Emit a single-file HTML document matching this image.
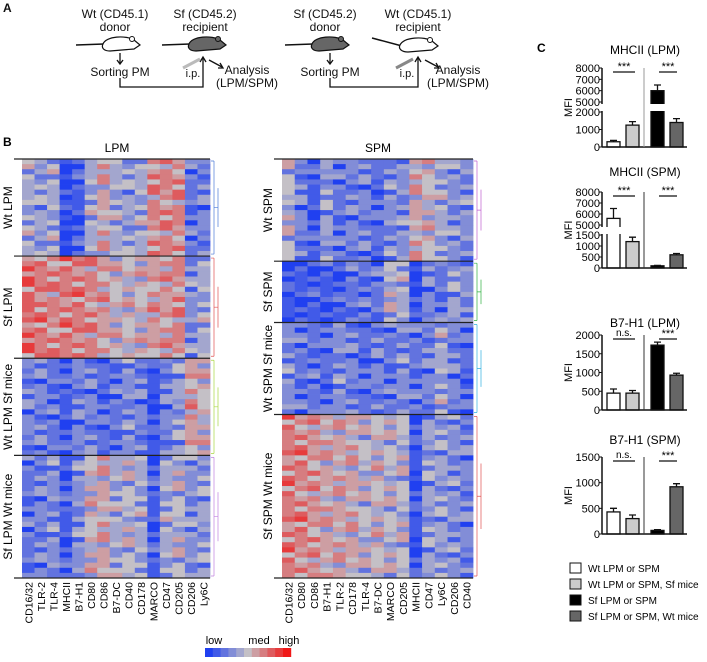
<!DOCTYPE html>
<html><head><meta charset="utf-8"><style>
html,body{margin:0;padding:0;background:#fff;}
svg{display:block;font-family:"Liberation Sans",Arial,sans-serif;}
</style></head><body>
<svg id="fig" width="707" height="662" viewBox="0 0 707 662" xmlns="http://www.w3.org/2000/svg">
<!-- Panel A -->
<g font-size="12" fill="#111">
<text x="3" y="12" font-weight="bold" font-size="12">A</text>
<text x="115" y="18" text-anchor="middle">Wt (CD45.1)</text>
<text x="115" y="31" text-anchor="middle">donor</text>
<text x="205" y="18" text-anchor="middle">Sf (CD45.2)</text>
<text x="205" y="31" text-anchor="middle">recipient</text>
<text x="325" y="18" text-anchor="middle">Sf (CD45.2)</text>
<text x="325" y="31" text-anchor="middle">donor</text>
<text x="418" y="18" text-anchor="middle">Wt (CD45.1)</text>
<text x="418" y="31" text-anchor="middle">recipient</text>
<g><path d="M76 45 L104 44" stroke="#111" stroke-width="1.5"/><path d="M103 44 C106 36,126 35,134 40 L140 45 L134 49 L110 51 C104 51,101 48,103 44Z" fill="#fff" stroke="#111" stroke-width="1.2"/><circle cx="132" cy="39" r="2.5" fill="#fff" stroke="#111"/></g>
<g><path d="M162 45 L190 44" stroke="#111" stroke-width="1.5"/><path d="M189 44 C192 36,212 35,220 40 L226 45 L220 49 L196 51 C190 51,187 48,189 44Z" fill="#666" stroke="#111" stroke-width="1.2"/><circle cx="218" cy="39" r="2.5" fill="#666" stroke="#111"/></g>
<g><path d="M285 45 L313 44" stroke="#111" stroke-width="1.5"/><path d="M312 44 C315 36,335 35,343 40 L349 45 L343 49 L319 51 C313 51,310 48,312 44Z" fill="#666" stroke="#111" stroke-width="1.2"/><circle cx="341" cy="39" r="2.5" fill="#666" stroke="#111"/></g>
<g><path d="M372 38 L402 46" stroke="#111" stroke-width="1.5"/><path d="M400 45 C404 37,424 36,432 41 L438 46 L432 50 L408 52 C402 52,398 49,400 45Z" fill="#fff" stroke="#111" stroke-width="1.2"/><circle cx="430" cy="40" r="2.5" fill="#fff" stroke="#111"/></g>
<g stroke="#111" stroke-width="1.3" fill="none">
<path d="M120 53 V63"/><path d="M117 60 L120 64 L123 60"/>
<path d="M120 78 V87 H203 V58"/><path d="M200 62 L203 57 L206 62"/>
<path d="M209 60 L222 67"/><path d="M218 68 L223 68 L220 63"/>
<path d="M330 53 V63"/><path d="M327 60 L330 64 L333 60"/>
<path d="M330 78 V87 H418 V58"/><path d="M415 62 L418 57 L421 62"/>
<path d="M425 60 L438 67"/><path d="M434 68 L439 68 L436 63"/>
</g>
<path d="M183 68 L200 59" stroke="#bbb" stroke-width="3"/>
<path d="M396 68 L413 59" stroke="#888" stroke-width="3"/>
<text x="120" y="76" text-anchor="middle">Sorting PM</text>
<text x="193" y="77" text-anchor="middle" font-size="11">i.p.</text>
<text x="247" y="74" text-anchor="middle">Analysis</text>
<text x="247" y="87" text-anchor="middle">(LPM/SPM)</text>
<text x="330" y="76" text-anchor="middle">Sorting PM</text>
<text x="407" y="77" text-anchor="middle" font-size="11">i.p.</text>
<text x="458" y="74" text-anchor="middle">Analysis</text>
<text x="458" y="87" text-anchor="middle">(LPM/SPM)</text>
</g>
<text x="3" y="146" font-weight="bold" font-size="12">B</text>
<text x="117" y="152" text-anchor="middle" font-size="12">LPM</text>
<text x="378" y="152" text-anchor="middle" font-size="12">SPM</text>
<text x="537" y="52" font-weight="bold" font-size="12">C</text>
<g id="heat"></g>
<g id="bars"></g>
<g font-size="10">
<rect x="570" y="563" width="11" height="10" fill="#fff" stroke="#111"/><text x="588" y="572">Wt LPM or SPM</text>
<rect x="570" y="579" width="11" height="10" fill="#ccc" stroke="#111"/><text x="588" y="588">Wt LPM or SPM, Sf mice</text>
<rect x="570" y="595" width="11" height="10" fill="#000" stroke="#111"/><text x="588" y="604">Sf LPM or SPM</text>
<rect x="570" y="611" width="11" height="10" fill="#666" stroke="#111"/><text x="588" y="620">Sf LPM or SPM, Wt mice</text>
</g>
</svg>
<script>
const NS="http://www.w3.org/2000/svg";
function mk(p,tag,at,txt){const e=document.createElementNS(NS,tag);for(const k in at)e.setAttribute(k,at[k]);if(txt!=null)e.textContent=txt;p.appendChild(e);return e;}

// ---- Heatmap data ----
const lpmMarkers=["CD16/32","TLR-2","TLR-4","MHCII","B7-H1","CD80","CD86","B7-DC","CD40","CD178","MARCO","CD47","CD205","CD206","Ly6C"];
const spmMarkers=["CD16/32","CD80","CD86","B7-H1","TLR-2","CD178","TLR-4","B7-DC","MARCO","CD205","MHCII","CD47","Ly6C","CD206","CD40"];
const lpmGroups=["Wt LPM","Sf LPM","Wt LPM Sf mice","Sf LPM Wt mice"];
const spmGroups=["Wt SPM","Sf SPM","Wt SPM Sf mice","Sf SPM Wt mice"];
const lpmRows=[19,20,19,24];
const spmRows=[20,12,18,32];
const lpmWt=[-0.2,-0.3,-0.2,-0.95,-0.8,-0.2,0.1,-0.2,-0.3,-0.2,0.3,0.3,0.3,-0.6,-0.5];
const lpmSf=[0.5,0.4,0.3,0.4,0.4,0.3,0.2,0.0,0.0,0.0,0.2,0.2,0.3,-0.4,-0.2];
const lpmWtSf=[-0.5,-0.5,-0.6,-0.8,-0.5,-0.5,-0.7,-0.6,-0.4,-0.5,-0.9,-0.5,-0.3,0.2,0.0];
const lpmSfWt=[-0.6,-0.5,-0.4,-0.8,-0.4,0.0,0.1,-0.2,-0.1,-0.2,-0.8,-0.2,-0.1,-0.4,-0.3];
const spmWt=[-0.1,-0.5,-0.8,-0.3,-0.6,-0.5,-0.5,-0.7,-0.4,-0.4,0.1,0.0,-0.2,-0.4,-0.4];
const spmSf=[-0.9,-0.8,-0.8,-0.8,-0.8,-0.6,-0.6,-0.6,-0.1,-0.2,-0.95,-0.5,-0.6,-0.3,-0.4];
const spmWtSf=[-0.4,-0.6,-0.6,-0.7,-0.4,-0.5,-0.7,-0.5,-0.6,-0.4,-0.6,-0.5,-0.2,-0.5,-0.7];
const spmSfWt=[0.4,0.35,0.25,0.1,0.1,0.1,-0.1,0.0,-0.1,-0.1,-0.9,-0.3,-0.3,-0.4,-0.5];
const rowJitter=[0.25,-0.3,0.1,0.4,-0.2,0.0,-0.45,0.3,-0.1,0.2,-0.35,0.15,0.05];

function colorFor(v){v=Math.max(-1,Math.min(1,v));v=Math.round(v*5)/5;
 const g=[196,192,198],b=[32,64,240],r=[240,24,24];const t=Math.abs(v),c=v<0?b:r;
 return `rgb(${Math.round(g[0]+(c[0]-g[0])*t)},${Math.round(g[1]+(c[1]-g[1])*t)},${Math.round(g[2]+(c[2]-g[2])*t)})`;}

function heatmap(cfg){
 const h=document.getElementById('heat');
 const g=mk(h,'g',{});
 
 
 const cw=(cfg.x1-cfg.x0)/cfg.markers.length;
 let total=cfg.rows.reduce((a,b)=>a+b,0);
 const rh=(cfg.y1-cfg.y0)/total;
 let y=cfg.y0;
 cfg.means.forEach((m,gi)=>{
  const ys=y;
  for(let r=0;r<cfg.rows[gi];r++){
   for(let c=0;c<m.length;c++){
    const v=m[c]+rowJitter[(r*3+c*5+gi)%rowJitter.length]*0.9;
    const cell=mk(g,'rect',{x:cfg.x0+c*cw,y:y,width:cw+0.4,height:rh+0.4,fill:colorFor(v)});
    
    
   }
   y+=rh;
  }
  const sep=mk(g,'line',{x1:cfg.x0-8,x2:cfg.x1,y1:ys,y2:ys,stroke:'#222','stroke-width':1.2});
  
  
  const lab=mk(g,'text',{x:0,y:0,'font-size':12,'text-anchor':'middle',transform:`translate(${cfg.labX},${(ys+y)/2}) rotate(-90)`},cfg.groups[gi]);
  
  
  const d=mk(g,'path',{d:`M${cfg.x1+1} ${ys+2} h3 M${cfg.x1+4} ${ys+2} V${y-2} M${cfg.x1+1} ${y-2} h3 M${cfg.x1+4} ${(ys+y)/2} h4 M${cfg.x1+8} ${ys+(y-ys)*0.3} V${ys+(y-ys)*0.7}`,stroke:cfg.dcol[gi],fill:'none','stroke-width':0.7});
  
  
 });
 const bl=mk(g,'line',{x1:cfg.x0-8,x2:cfg.x1,y1:cfg.y1,y2:cfg.y1,stroke:'#222','stroke-width':1.2});
 
 
 cfg.markers.forEach((mm,c)=>{
  const t=mk(g,'text',{x:0,y:0,'font-size':10.5,'text-anchor':'end',transform:`translate(${cfg.x0+(c+0.5)*cw+4},${cfg.y1+4}) rotate(-90)`},mm);
  
  
 });
}
heatmap({name:'lpm-heatmap',markers:lpmMarkers,groups:lpmGroups,rows:lpmRows,means:[lpmWt,lpmSf,lpmWtSf,lpmSfWt],x0:22,x1:210,y0:159,y1:578,labX:12,dcol:['#4a7ad8','#e05050','#a8d840','#c080e0']});
heatmap({name:'spm-heatmap',markers:spmMarkers,groups:spmGroups,rows:spmRows,means:[spmWt,spmSf,spmWtSf,spmSfWt],x0:282,x1:473,y0:159,y1:578,labX:272,dcol:['#c060d0','#30b040','#30b0e0','#e05050']});

(function(){const h=document.getElementById('heat');
 const cb=mk(h,'g',{});
 
 
 for(let i=0;i<11;i++){const r=mk(cb,'rect',{x:205+i*7.8,y:648,width:8.2,height:9,fill:colorFor(-1+i*0.2)});
  
  }
 [["low",214],["med",259],["high",289]].forEach(([t,x])=>{const e=mk(cb,'text',{x:x,y:644,'font-size':11,'text-anchor':'middle'},t);
  
  });
})();

// ---- Panel C bar data ----
const barFills=["#fff","#ccc","#000","#666"];
const mhcLpmVals=[300,1250,6000,1400];
const mhcLpmErr=[380,1450,6500,1620];
const mhcSpmVals=[5600,1200,100,600];
const mhcSpmErr=[6500,1400,120,660];
const b7LpmVals=[450,450,1730,930];
const b7LpmErr=[560,520,1810,980];
const b7SpmVals=[430,300,70,920];
const b7SpmErr=[500,370,85,980];
const mhcTicks=[0,1000,2000,5000,6000,7000,8000];
const mhcSpmTicks=[0,500,1000,1500,5000,6000,7000,8000];
const b7LpmTicks=[0,500,1000,1500,2000];
const b7SpmTicks=[0,500,1000,1500];

function barChart(cfg){
 const root=document.getElementById('bars');
 const g=mk(root,'g',{'font-size':11});
 
 
 const ax=602,xr=687,base=cfg.yScale(0);
 const title=mk(g,'text',{x:645,y:cfg.titleY,'text-anchor':'middle','font-size':12},cfg.title);
 
 
 const yl=mk(g,'text',{x:0,y:0,'text-anchor':'middle',transform:`translate(${572},${(cfg.yScale(cfg.ticks[cfg.ticks.length-1])+base)/2}) rotate(-90)`},'MFI');
 
 
 const bx=[607,626,651,670];
 cfg.vals.forEach((v,i)=>{
  const top=cfg.yScale(v),et=cfg.yScale(cfg.err[i]);
  const eb=mk(g,'path',{d:`M${bx[i]+6.5} ${top} V${et} M${bx[i]+3} ${et} H${bx[i]+10}`,stroke:'#111','stroke-width':1.3,fill:'none'});
  
  
  const r=mk(g,'rect',{x:bx[i],y:top,width:13,height:base-top,fill:barFills[i],stroke:'#111','stroke-width':1.3});
  
  
  if(cfg.gap&&v>cfg.gap[1]){const gp=mk(g,'rect',{x:bx[i]-1,y:cfg.gapPx[0],width:15,height:cfg.gapPx[1]-cfg.gapPx[0],fill:'#fff'});
   
   }
 });
 const axis=mk(g,'path',{d:cfg.gap?`M${ax} ${cfg.yScale(cfg.ticks[cfg.ticks.length-1])} V${cfg.gapPx[0]} M${ax} ${cfg.gapPx[1]} V${base}`:`M${ax} ${cfg.yScale(cfg.ticks[cfg.ticks.length-1])} V${base}`,stroke:'#111','stroke-width':1.5,fill:'none'});
 
 
 const xa=mk(g,'line',{x1:ax,x2:xr,y1:base,y2:base,stroke:'#111','stroke-width':1.5});
 
 
 cfg.ticks.forEach(t=>{const y=cfg.yScale(t);
  const tk=mk(g,'line',{x1:ax-3,x2:ax,y1:y,y2:y,stroke:'#111'});
  
  
  const tl=mk(g,'text',{x:ax-2,y:y+4,'text-anchor':'end'},String(t));
  
  });
 const top=cfg.yScale(cfg.ticks[cfg.ticks.length-1]);
 const dv=mk(g,'line',{x1:644,x2:644,y1:top,y2:base,stroke:cfg.divCol||'#333','stroke-width':1});
 
 
 cfg.sig.forEach((s,i)=>{const xs=i?[659,677]:[613,635];
  const l=mk(g,'line',{x1:xs[0],x2:xs[1],y1:top+4,y2:top+4,stroke:'#111','stroke-width':1.3});
  
  
  const t=mk(g,'text',{x:(xs[0]+xs[1])/2,y:top+(s==='n.s.'?1:2),'text-anchor':'middle','font-size':s==='n.s.'?10:11},s);
  
  });
}
function brokenScale(base,lowMax,lowPx,hiMin,hiMax,hiTop,gapBottom){
 return v=>v<=lowMax?base-v/lowMax*lowPx:gapBottom-(v-hiMin)/(hiMax-hiMin)*(gapBottom-hiTop);
}
barChart({name:'mhcii-lpm-chart',title:'MHCII (LPM)',titleY:54,vals:mhcLpmVals,err:mhcLpmErr,ticks:mhcTicks,
 yScale:brokenScale(147,2000,35,5000,8000,68,102),gap:[2000,5000],gapPx:[104,111],sig:['***','***'],divCol:'#999'});
barChart({name:'mhcii-spm-chart',title:'MHCII (SPM)',titleY:176,vals:mhcSpmVals,err:mhcSpmErr,ticks:mhcSpmTicks,
 yScale:brokenScale(268,1500,33,5000,8000,192,225),gap:[1500,5000],gapPx:[227,234],sig:['***','***']});
barChart({name:'b7h1-lpm-chart',title:'B7-H1 (LPM)',titleY:327,vals:b7LpmVals,err:b7LpmErr,ticks:b7LpmTicks,
 yScale:v=>410-v/2000*75,sig:['n.s.','***']});
barChart({name:'b7h1-spm-chart',title:'B7-H1 (SPM)',titleY:444,vals:b7SpmVals,err:b7SpmErr,ticks:b7SpmTicks,
 yScale:v=>534-v/1500*77,sig:['n.s.','***']});
</script>
</body></html>
